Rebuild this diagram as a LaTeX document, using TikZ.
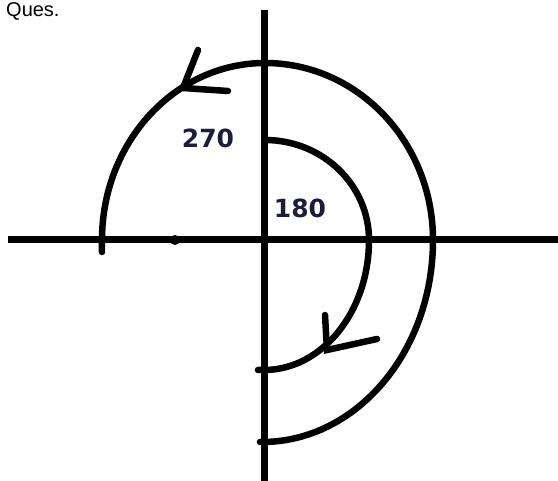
\documentclass[tikz,border=0pt]{standalone}
\usepackage{fontspec}
\setmainfont{Liberation Sans}
\newfontfamily\numfont{DejaVu Sans}
\definecolor{labelink}{RGB}{28,28,60}
\tikzset{
  axisline/.style={line width=7pt},
  turnline/.style={line width=6.5pt, line cap=round},
  turnlabel/.style={font=\numfont\bfseries\fontsize{25}{28}\selectfont, text=labelink, inner sep=0pt}
}
\begin{document}
\begin{tikzpicture}[x=1pt, y=1pt]
    \useasboundingbox (-265,-241) rectangle (293,240);
    % heading at the top
    \node[anchor=north west, inner sep=0pt, font=\fontsize{20}{24}\selectfont] (head) at (-259,238) {Ques.};
    % axes
    \draw[axisline] (-257,0)--(293,0);
    \draw[axisline] (0,230)--(0,-241);
    \fill (-90,0) circle (5);
    % outer turn, 270
    \draw[turnline] (-163,-12)--(-163,0)
        arc[start angle=180, end angle=90, x radius=163, y radius=177]
        arc[start angle=90, end angle=0, x radius=168, y radius=177]
        arc[start angle=0, end angle=-90, x radius=171, y radius=202]--(-5,-202);
    \draw[turnline] (-67,190)--(-82,152)--(-37,149);
    % inner turn, 180
    \draw[turnline] (0,100)
        arc[start angle=90, end angle=0, x radius=104, y radius=100]
        arc[start angle=0, end angle=-90, x radius=105, y radius=130]--(-7,-130);
    \draw[turnline] (60,-75)--(62,-110)--(112,-99);
    \node[turnlabel] (outerlabel) at (-57,102) {270};
    \node[turnlabel] (innerlabel) at (35,32) {180};
\end{tikzpicture}
\end{document}
